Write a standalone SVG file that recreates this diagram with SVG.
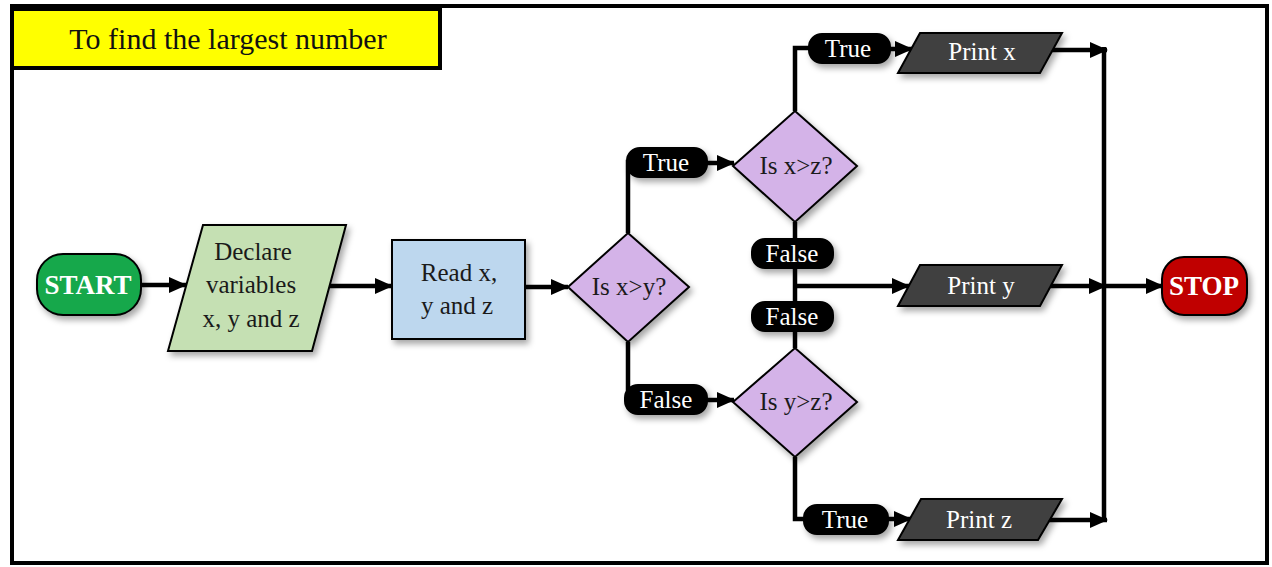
<svg xmlns="http://www.w3.org/2000/svg" width="1272" height="567" viewBox="0 0 1272 567">
  <defs>
    <style>
      text { font-family: "Liberation Serif", "Times New Roman", serif; text-anchor: middle; dominant-baseline: central; }
      .lbl { font-size: 25px; fill: #1a1a1a; }
      .wlbl { font-size: 25px; fill: #ffffff; }
      .term { font-size: 27px; font-weight: bold; fill: #ffffff; }
      .edge { fill: none; stroke: #000; stroke-width: 4.5; }
      .node { stroke: #000; stroke-width: 2; filter: url(#shadow); }
      .pill { fill: #000; stroke: #000; stroke-width: 2; filter: url(#shadow); }
    </style>
    <filter id="shadow" x="-20%" y="-20%" width="150%" height="160%">
      <feDropShadow dx="3" dy="4" stdDeviation="3" flood-color="#000" flood-opacity="0.35"/>
    </filter>
    <marker id="ah" markerWidth="20" markerHeight="20" refX="17" refY="9" orient="auto" markerUnits="userSpaceOnUse">
      <path d="M0,1 L18,9 L0,17 Z" fill="#000"/>
    </marker>
  </defs>

  <!-- frame and title -->
  <rect x="12" y="6" width="1255" height="557" fill="#fff" stroke="#000" stroke-width="4"/>
  <g id="title">
    <rect x="12" y="9" width="428" height="59" fill="#ffff00" stroke="#000" stroke-width="4"/>
    <text x="228" y="38" style="font-size:30px;fill:#111">To find the largest number</text>
  </g>

  <!-- connectors -->
  <g id="connectors">
    <path class="edge" d="M141,285 H186" marker-end="url(#ah)"/>
    <path class="edge" d="M330,286 H392" marker-end="url(#ah)"/>
    <path class="edge" d="M525,287 H568" marker-end="url(#ah)"/>
    <path class="edge" d="M628,233 V162 H640"/>
    <path class="edge" d="M706,163 H734" marker-end="url(#ah)"/>
    <path class="edge" d="M795,111 V48 H812"/>
    <path class="edge" d="M889,49 H912" marker-end="url(#ah)"/>
    <path class="edge" d="M1048,50 H1107" marker-end="url(#ah)"/>
    <path class="edge" d="M1104,47 V522"/>
    <path class="edge" d="M795,222 V348"/>
    <path class="edge" d="M795,286 H909" marker-end="url(#ah)"/>
    <path class="edge" d="M1048,286 H1106" marker-end="url(#ah)"/>
    <path class="edge" d="M1104,286 H1163" marker-end="url(#ah)"/>
    <path class="edge" d="M628,342 V399 H640"/>
    <path class="edge" d="M706,400 H734" marker-end="url(#ah)"/>
    <path class="edge" d="M795,457 V519 H812"/>
    <path class="edge" d="M887,519 H911" marker-end="url(#ah)"/>
    <path class="edge" d="M1045,520 H1107" marker-end="url(#ah)"/>
  </g>

  <g id="start">
    <rect class="node" x="37" y="254" width="104" height="61" rx="26" fill="#12a84b"/>
    <text class="term" x="88" y="285">START</text>
  </g>

  <g id="declare">
    <polygon class="node" points="203,225 346,225 312,351 168,351" fill="#c5e0b3"/>
    <text class="lbl" x="253" y="251">Declare</text>
    <text class="lbl" x="251" y="284">variables</text>
    <text class="lbl" x="251" y="318">x, y and z</text>
  </g>

  <g id="read">
    <rect class="node" x="392" y="240" width="133" height="99" fill="#bdd7ee"/>
    <text class="lbl" x="459" y="272">Read x,</text>
    <text class="lbl" x="457" y="305">y and z</text>
  </g>

  <g id="cmp-xy">
    <polygon class="node" points="628,233 689,287 628,342 568,287" fill="#d4b3e8"/>
    <text class="lbl" x="629" y="286">Is x&gt;y?</text>
  </g>

  <g id="true-xy">
    <rect class="pill" x="627" y="148" width="80" height="29" rx="13"/>
    <text class="wlbl" x="666" y="162">True</text>
  </g>

  <g id="false-xy">
    <rect class="pill" x="625" y="385" width="82" height="29" rx="13"/>
    <text class="wlbl" x="666" y="399">False</text>
  </g>

  <g id="cmp-xz">
    <polygon class="node" points="795,111 857,166 795,222 733,166" fill="#d4b3e8"/>
    <text class="lbl" x="796" y="165">Is x&gt;z?</text>
  </g>

  <g id="true-xz">
    <rect class="pill" x="809" y="34" width="81" height="29" rx="13"/>
    <text class="wlbl" x="848" y="48">True</text>
  </g>

  <g id="false-xz">
    <rect class="pill" x="752" y="239" width="81" height="29" rx="13"/>
    <text class="wlbl" x="792" y="253">False</text>
  </g>

  <g id="false-yz">
    <rect class="pill" x="752" y="302" width="81" height="29" rx="13"/>
    <text class="wlbl" x="792" y="316">False</text>
  </g>

  <g id="cmp-yz">
    <polygon class="node" points="795,348 857,402 795,457 733,402" fill="#d4b3e8"/>
    <text class="lbl" x="796" y="401">Is y&gt;z?</text>
  </g>

  <g id="true-yz">
    <rect class="pill" x="804" y="505" width="84" height="29" rx="13"/>
    <text class="wlbl" x="845" y="519">True</text>
  </g>

  <g id="print-x">
    <polygon class="node" points="920,33 1062,33 1040,73 898,73" fill="#404040"/>
    <text class="wlbl" x="982" y="51">Print x</text>
  </g>

  <g id="print-y">
    <polygon class="node" points="920,265 1062,265 1040,306 898,306" fill="#404040"/>
    <text class="wlbl" x="981" y="285">Print y</text>
  </g>

  <g id="print-z">
    <polygon class="node" points="921,499 1062,499 1038,540 898,540" fill="#404040"/>
    <text class="wlbl" x="979" y="519">Print z</text>
  </g>

  <g id="stop">
    <rect class="node" x="1162" y="257" width="85" height="58" rx="22" fill="#c00000"/>
    <text class="term" x="1204" y="286">STOP</text>
  </g>
</svg>
